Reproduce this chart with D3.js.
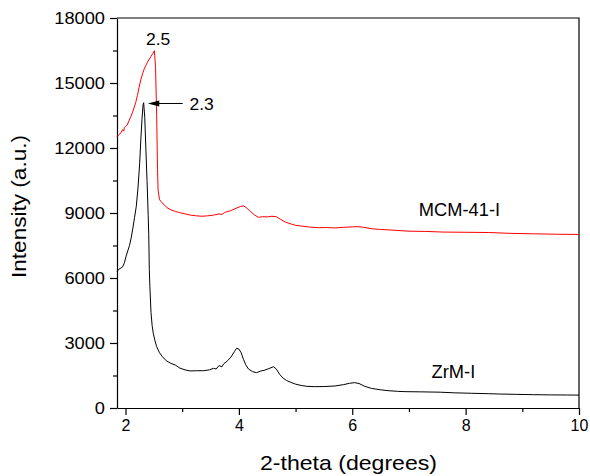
<!DOCTYPE html>
<html>
<head>
<meta charset="utf-8">
<script src="https://cdn.jsdelivr.net/npm/d3@7"></script>
<style>
  body { margin: 0; background: #fff; }
  svg { font-family: Arial, "Liberation Sans", sans-serif; }
</style>
</head>
<body>
<svg id="chart" width="590" height="476"></svg>
<script>
// MCM-41-I (red) : 2-theta, intensity
let mcmTheta = [1.85, 1.88, 1.92, 1.95, 1.97, 1.98, 2.00, 2.03, 2.06, 2.09, 2.12, 2.15, 2.18, 2.21, 2.24, 2.27,
  2.30, 2.33, 2.36, 2.39, 2.42, 2.45, 2.48, 2.51, 2.53, 2.55, 2.565, 2.575, 2.60, 2.64, 2.68, 2.73,
  2.80, 2.88, 2.95, 3.05, 3.15, 3.25, 3.35, 3.45, 3.55, 3.65, 3.70, 3.75, 3.85, 3.95, 4.03, 4.08, 4.13,
  4.20, 4.28, 4.35, 4.42, 4.50, 4.58, 4.66, 4.74, 4.82, 4.90, 5.00, 5.10, 5.25, 5.40, 5.55, 5.70,
  5.85, 6.00, 6.10, 6.20, 6.35, 6.50, 6.70, 7.00, 7.30, 7.60, 8.00, 8.40, 8.80, 9.20, 9.60, 10.00];
let mcmIntensity = [12520, 12610, 12700, 12850, 12780, 12950, 12990, 13060, 13250, 13420, 13620, 13850, 14100, 14420, 14800, 15150,
  15420, 15650, 15820, 15970, 16100, 16230, 16350, 16490, 15700, 13500, 11000, 10060, 9620, 9480, 9390, 9250,
  9150, 9070, 9020, 8960, 8900, 8870, 8850, 8870, 8900, 8960, 8930, 9030, 9100, 9220, 9300, 9330, 9250,
  9080, 8900, 8800, 8830, 8820, 8850, 8830, 8700, 8580, 8510, 8430, 8400, 8350, 8320, 8330, 8310,
  8340, 8360, 8370, 8340, 8270, 8240, 8210, 8160, 8150, 8120, 8110, 8100, 8060, 8040, 8020, 8010];

// ZrM-I (black)
let zrmTheta = [1.85, 1.88, 1.92, 1.95, 1.98, 2.01, 2.04, 2.07, 2.10, 2.13, 2.16, 2.19, 2.22, 2.25, 2.27,
  2.29, 2.31, 2.32, 2.34, 2.36, 2.38, 2.40, 2.41, 2.42, 2.43, 2.45, 2.47, 2.49, 2.52, 2.55, 2.60,
  2.65, 2.72, 2.80, 2.88, 2.96, 3.05, 3.14, 3.25, 3.38, 3.48, 3.55, 3.60, 3.65, 3.70, 3.73, 3.80, 3.86, 3.92,
  3.96, 4.00, 4.04, 4.08, 4.12, 4.17, 4.24, 4.31, 4.38, 4.46, 4.53, 4.61, 4.66, 4.72, 4.78, 4.84,
  4.92, 5.00, 5.10, 5.20, 5.34, 5.50, 5.69, 5.85, 5.95, 6.04, 6.12, 6.22, 6.34, 6.50, 6.63, 6.80,
  6.93, 7.20, 7.55, 7.80, 8.10, 8.40, 8.60, 8.90, 9.20, 9.50, 9.80, 10.00];
let zrmIntensity = [6290, 6400, 6460, 6520, 6700, 7000, 7250, 7500, 7850, 8300, 8800, 9300, 10150, 11300, 12370,
  13300, 14000, 14090, 13400, 11900, 10500, 8900, 8000, 6400, 5600, 4400, 3800, 3450, 3100, 2830, 2550,
  2370, 2180, 2060, 1980, 1840, 1760, 1710, 1720, 1720, 1760, 1830, 1800, 1960, 1900, 2030, 2180, 2350, 2600,
  2755, 2720, 2550, 2250, 2000, 1800, 1680, 1630, 1700, 1750, 1820, 1905, 1800, 1550, 1380, 1270,
  1180, 1100, 1040, 1000, 985, 990, 1015, 1080, 1140, 1170, 1130, 1000, 905, 840, 800, 770,
  755, 745, 730, 700, 680, 660, 645, 630, 615, 605, 600, 595];

let xTicks = [2, 4, 6, 8, 10];
let yTicks = [0, 3000, 6000, 9000, 12000, 15000, 18000];

let width = 590, height = 476;
let margin = { top: 18, right: 11, bottom: 68, left: 117 };

let svg = d3.select("#chart");

let x = d3.scaleLinear().domain([1.85, 10]).range([margin.left, width - margin.right]);
let y = d3.scaleLinear().domain([0, 18000]).range([height - margin.bottom, margin.top]);

// stretch digits a little wider, like the original export
function widen(sel, k) {
  sel.each(function() {
    let w = this.getComputedTextLength();
    d3.select(this).attr("textLength", w * k).attr("lengthAdjust", "spacingAndGlyphs");
  });
}

// minor ticks
let xMinor = d3.axisBottom(x).tickValues([3, 5, 7, 9]).tickSize(4).tickFormat("");
let yMinor = d3.axisLeft(y).tickValues([1500, 4500, 7500, 10500, 13500, 16500]).tickSize(4).tickFormat("");

svg.append("g").attr("transform", `translate(0,${y(0)})`).call(xMinor)
  .call(g => g.select(".domain").remove());
svg.append("g").attr("transform", `translate(${x(1.85)},0)`).call(yMinor)
  .call(g => g.select(".domain").remove());

let gx = svg.append("g")
  .attr("transform", `translate(0,${y(0)})`)
  .call(d3.axisBottom(x).tickValues(xTicks).tickFormat(d3.format("d")).tickSize(7).tickSizeOuter(0).tickPadding(5));
gx.selectAll("text").attr("font-size", 16).attr("fill", "#000").attr("font-family", "Arial, 'Liberation Sans'");

let gy = svg.append("g")
  .attr("transform", `translate(${x(1.85)},0)`)
  .call(d3.axisLeft(y).tickValues(yTicks).tickFormat(d3.format("d")).tickSize(7).tickSizeOuter(0).tickPadding(5));
gy.selectAll("text").attr("font-size", 16).attr("fill", "#000").attr("font-family", "Arial, 'Liberation Sans'");
gy.selectAll("text").call(widen, 1.14);

svg.selectAll(".domain, .tick line").attr("stroke", "#000").attr("stroke-width", 1.2);

// top and right frame
svg.append("path")
  .attr("d", `M${x(1.85)},${y(18000)}H${x(10)}V${y(0)}`)
  .attr("fill", "none").attr("stroke", "#000").attr("stroke-width", 1.2);

let line = d3.line().x(d => x(d[0])).y(d => y(d[1]));

svg.append("path")
  .datum(d3.zip(mcmTheta, mcmIntensity))
  .attr("d", line)
  .attr("fill", "none").attr("stroke", "#ff0000").attr("stroke-width", 1);

svg.append("path")
  .datum(d3.zip(zrmTheta, zrmIntensity))
  .attr("d", line)
  .attr("fill", "none").attr("stroke", "#000").attr("stroke-width", 1);

// annotations
svg.append("text").attr("x", x(2.575)).attr("y", y(16753))
  .attr("text-anchor", "middle").attr("font-size", 16.5).text("2.5")
  .attr("textLength", 24.3).attr("lengthAdjust", "spacingAndGlyphs");

svg.append("line")
  .attr("x1", x(3.01)).attr("y1", y(14054))
  .attr("x2", x(2.59)).attr("y2", y(14054))
  .attr("stroke", "#000").attr("stroke-width", 1);
svg.append("path")
  .attr("d", `M${x(2.395)},${y(14054)}L${x(2.595)},${y(14054) - 3}L${x(2.595)},${y(14054) + 3}Z`)
  .attr("fill", "#000");

svg.append("text").attr("x", x(3.13)).attr("y", y(13754))
  .attr("font-size", 17).text("2.3")
  .attr("textLength", 24.3).attr("lengthAdjust", "spacingAndGlyphs");

svg.append("text").attr("x", x(7.175)).attr("y", y(8875))
  .attr("font-size", 18.3).text("MCM-41-I");

svg.append("text").attr("x", x(7.4)).attr("y", y(1371))
  .attr("font-size", 18.3).text("ZrM-I");

// axis titles
svg.append("text")
  .attr("x", (x(1.85) + x(10)) / 2 + 0.5).attr("y", 469.5)
  .attr("text-anchor", "middle").attr("font-size", 21).text("2-theta (degrees)")
  .attr("textLength", 177).attr("lengthAdjust", "spacingAndGlyphs");

svg.append("text")
  .attr("transform", "translate(26,206.5) rotate(-90)")
  .attr("text-anchor", "middle").attr("font-size", 20).text("Intensity (a.u.)")
  .attr("textLength", 143).attr("lengthAdjust", "spacingAndGlyphs");
</script>
</body>
</html>
